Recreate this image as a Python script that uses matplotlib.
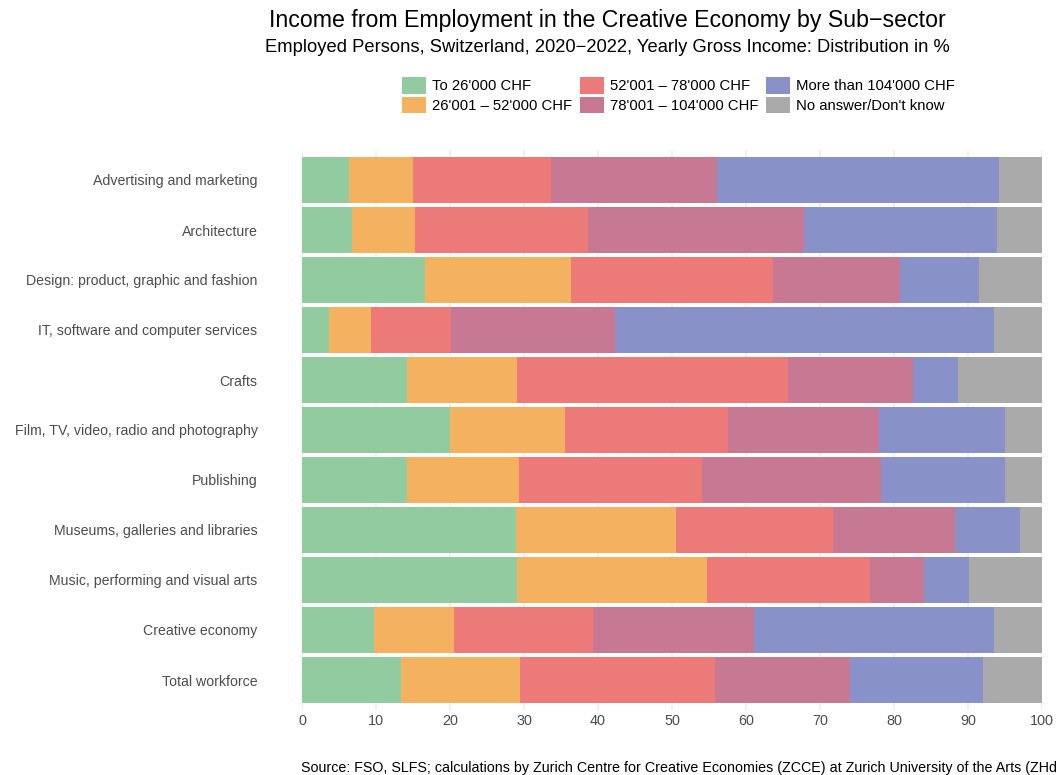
import matplotlib
matplotlib.use("Agg")
import matplotlib.pyplot as plt
from matplotlib.patches import Patch
import numpy as np

plt.rcParams['font.family'] = ['Liberation Sans', 'DejaVu Sans']

# sub-sectors, top to bottom
sectors = ["Advertising and marketing", "Architecture",
           "Design: product, graphic and fashion",
           "IT, software and computer services", "Crafts",
           "Film, TV, video, radio and photography", "Publishing",
           "Museums, galleries and libraries",
           "Music, performing and visual arts", "Creative economy",
           "Total workforce"]

income_classes = ["To 26'000 CHF", "26'001 \u2013 52'000 CHF",
                  "52'001 \u2013 78'000 CHF", "78'001 \u2013 104'000 CHF",
                  "More than 104'000 CHF", "No answer/Don't know"]

# shares in % per income class (same order as sectors)
to_26k = [6.3, 6.7, 16.6, 3.7, 14.2, 20.0, 14.2, 28.9, 29.0, 9.7, 13.4]
k26_52 = [8.7, 8.6, 19.7, 5.6, 14.9, 15.6, 15.1, 21.7, 25.7, 10.8, 16.0]
k52_78 = [18.7, 23.4, 27.4, 10.9, 36.6, 21.9, 24.7, 21.2, 22.0, 18.8, 26.4]
k78_104 = [22.4, 29.2, 17.1, 22.1, 16.8, 20.5, 24.2, 16.4, 7.4, 21.8, 18.3]
over_104k = [38.1, 26.0, 10.7, 51.2, 6.2, 17.0, 16.8, 8.8, 6.1, 32.4, 17.9]
no_answer = [5.8, 6.1, 8.5, 6.5, 11.3, 5.0, 5.0, 3.0, 9.8, 6.5, 8.0]

colors = ["#93CBA1", "#F4B15F", "#EB7A78", "#C77892", "#8891C8", "#AAAAAA"]

series = [to_26k, k26_52, k52_78, k78_104, over_104k, no_answer]

fig = plt.figure(figsize=(10.57, 7.75), dpi=100)
ax = fig.add_axes([302/1057, 1 - 710/775, 740/1057, 560/775])

y = np.arange(len(sectors))
left = np.zeros(len(sectors))
for vals, col in zip(series, colors):
    vals = np.array(vals)
    ax.barh(y, vals, left=left, height=0.92, color=col, zorder=2)
    left += vals

ax.set_xlim(0, 100)
ax.set_ylim(len(sectors) - 0.4, -0.6)
ax.set_xticks(np.arange(0, 101, 10))
ax.set_yticks(y)
ax.set_yticklabels(sectors)
ax.grid(axis='x', color='#EBEBEB', lw=1.1, zorder=0)
for s in ax.spines.values():
    s.set_visible(False)
ax.tick_params(axis='y', length=0, pad=32, labelsize=10.2, labelcolor='#4D4D4D')
ax.tick_params(axis='x', length=0, pad=3, labelsize=10.4, labelcolor='#4D4D4D')

fig.text(607/1057, 1 - 21/775, "Income from Employment in the Creative Economy by Sub\u2212sector",
         ha='center', va='center', fontsize=16.7)
fig.text(607/1057, 1 - 48/775, "Employed Persons, Switzerland, 2020\u22122022, Yearly Gross Income: Distribution in %",
         ha='center', va='center', fontsize=13.2)

handles = [Patch(facecolor=c, edgecolor='none') for c in colors]
fig.legend(handles, income_classes, ncol=3, loc='upper left',
           bbox_to_anchor=(402/1057, 1 - 77/775), frameon=False,
           fontsize=10.7, handlelength=1.6, handleheight=1.35,
           handletextpad=0.4, labelspacing=0.2, columnspacing=0.55,
           borderpad=0, borderaxespad=0)

# source line runs past the right edge, as in the original
fig.text(301/1057, 1 - 768/775,
         "Source: FSO, SLFS; calculations by Zurich Centre for Creative Economies (ZCCE) at Zurich University of the Arts (ZHdK)",
         ha='left', va='center', fontsize=10.3)

fig.savefig("out.png", dpi=100)
